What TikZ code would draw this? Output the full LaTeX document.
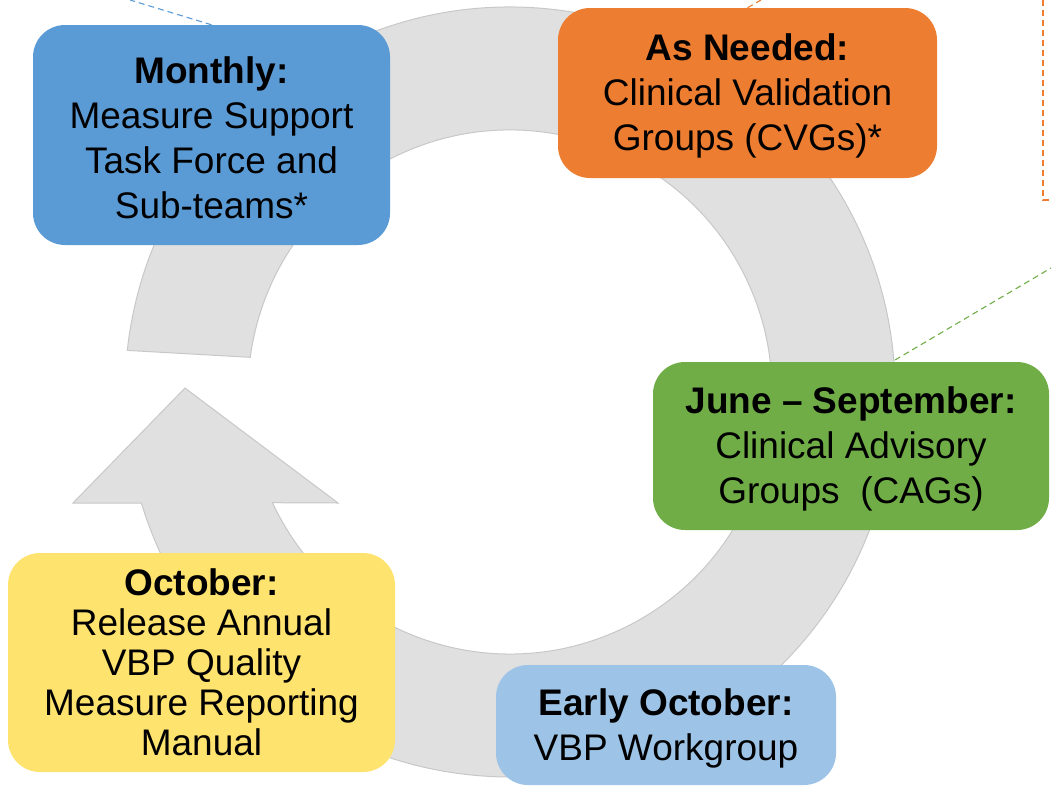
\documentclass[tikz,border=0pt]{standalone}
\usepackage{fontspec}
\setmainfont{Liberation Sans}
\usepackage{tikz}
\definecolor{boxblue}{HTML}{5B9BD5}
\definecolor{boxorange}{HTML}{ED7D31}
\definecolor{boxgreen}{HTML}{70AD47}
\definecolor{boxyellow}{HTML}{FFE36F}
\definecolor{boxpale}{HTML}{9DC3E6}
\definecolor{ringgray}{HTML}{E0E0E0}
\definecolor{ringline}{HTML}{C8C8C8}
\newcommand\toppad{\rule{0pt}{33pt}}
\tikzset{
  stagebox/.style={rounded corners=32pt, align=center, inner sep=0pt,
    font=\fontsize{37}{45}\selectfont},
  ringfill/.style={fill=ringgray, draw=ringline, line width=1pt},
  callout/.style={line width=1.1pt, dash pattern=on 6pt off 4pt}
}

\begin{document}
\begin{tikzpicture}[x=1pt,y=-1pt]
\useasboundingbox (0,0) rectangle (1051,787);
%Ring with arrowhead
\draw[ringfill] (127.3,350.4) arc[start angle=186.2, end angle=523.2, radius=385]
  -- (73,503) -- (185,388) -- (338,503) -- (272.5,502.7)
  arc[start angle=515, end angle=187.6, radius=262] -- cycle;
%Boxes
\node[stagebox, fill=boxblue, minimum width=357pt, minimum height=220pt] (monthly) at (211.5,135)
  {\toppad\textbf{Monthly:}\\Measure Support\\Task Force and\\Sub-teams*};
\node[stagebox, fill=boxorange, minimum width=379pt, minimum height=170pt] (asneeded) at (747.5,93)
  {\toppad\textbf{As Needed:}\\Clinical Validation\\Groups (CVGs)*};
\node[stagebox, fill=boxgreen, minimum width=396pt, minimum height=168pt] (junesep) at (851,446)
  {\toppad\textbf{June -- September:}\\Clinical Advisory\\Groups~ (CAGs)};
\node[stagebox, fill=boxyellow, minimum width=387pt, minimum height=219pt,
  font=\fontsize{37}{40}\selectfont] (october) at (201.5,662.5)
  {\textbf{October:}\\Release Annual\\VBP Quality\\Measure Reporting\\Manual};
\node[stagebox, fill=boxpale, minimum width=340pt, minimum height=120pt] (earlyoct) at (666,725)
  {\toppad\textbf{Early October:}\\VBP Workgroup};
%Callouts
\coordinate (blueend) at (130,0);
\coordinate (orangeend) at (761,0);
\coordinate (greenfoot) at (895,360);
\coordinate (greenend) at (1051,268);
\draw[callout, draw=boxblue] (monthly.north) -- (blueend);
\draw[callout, draw=boxorange] (asneeded.north) -- (orangeend);
\draw[callout, draw=boxorange] (1043,0) |- (1051,200);
\draw[callout, draw=boxgreen] (greenfoot) -- (greenend);
\end{tikzpicture}
\end{document}
